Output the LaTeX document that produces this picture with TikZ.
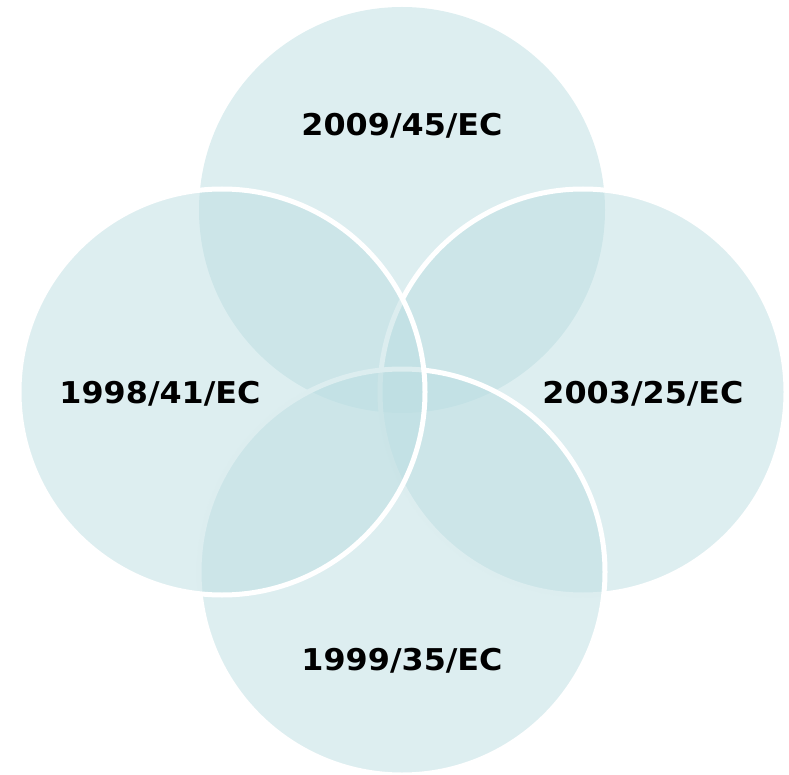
\documentclass[tikz,border=0pt]{standalone}
\usepackage{fontspec}
\newfontfamily\lblfont[FakeStretch=1.06]{DejaVu Sans}
\usetikzlibrary{positioning}

\definecolor{ringfill}{RGB}{187,221,225}

\begin{document}
\begin{tikzpicture}[
  x=1pt, y=-1pt,
  ring/.style={circle, inner sep=0pt, minimum size=406pt,
    fill=ringfill, fill opacity=0.5},
  ringw/.style={ring, draw=white, draw opacity=1, line width=5pt},
  dirlbl/.style={anchor=base, inner sep=0pt,
    font=\lblfont\bfseries\fontsize{30pt}{32pt}\selectfont},
]
\useasboundingbox (0,0) rectangle (789,775);

%% Four directives, drawn top, right, bottom, left
\node[ring]  (top)    at (402,210) {};
\node[ringw] (right)  at (583,392) {};
\node[ringw] (bottom) at (402,572) {};
\node[ringw] (left)   at (222,392) {};

%% Labels
\node[dirlbl] (toplbl)    at (402,136) {2009/45/EC};
\node[dirlbl] (leftlbl)   at (160,403) {1998/41/EC};
\node[dirlbl] (rightlbl)  at (643,403) {2003/25/EC};
\node[dirlbl] (bottomlbl) at (402,670) {1999/35/EC};

\end{tikzpicture}
\end{document}
